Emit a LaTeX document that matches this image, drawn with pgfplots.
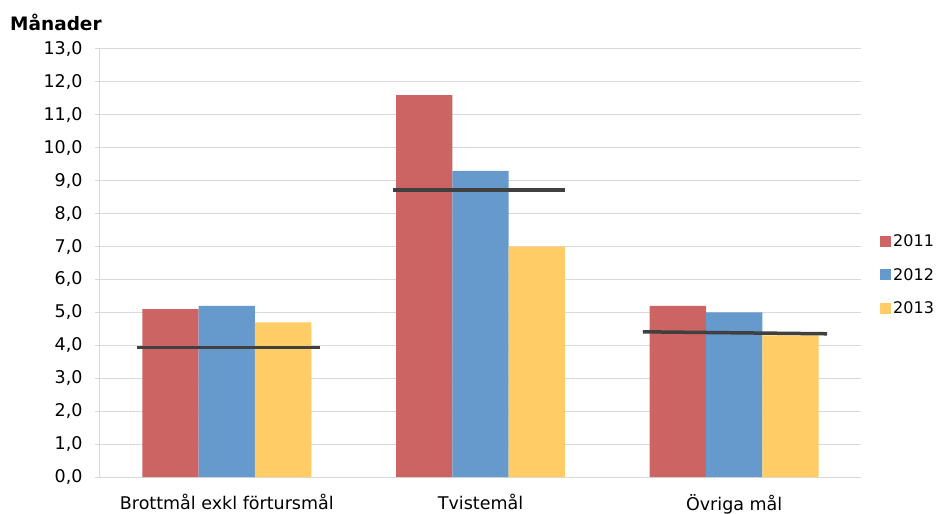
\documentclass[border=0pt]{standalone}
\usepackage{pgfplots}
\pgfplotsset{compat=1.18}
\usepackage{fontspec}
\setmainfont{DejaVu Sans}

\definecolor{c11}{HTML}{CD6464}
\definecolor{c12}{HTML}{6699CC}
\definecolor{c13}{HTML}{FFCC66}
\definecolor{gridc}{HTML}{D9D9D9}
\definecolor{mark}{HTML}{404040}

\begin{document}
\begin{tikzpicture}[x=1pt,y=1pt]
\useasboundingbox (-100,-37) rectangle (837,477);
\begin{axis}[
    at={(0,0)}, anchor=south west,
    scale only axis,
    width=761pt, height=428pt,
    ybar=0pt, bar width=0.222,
    xmin=-0.5, xmax=2.5,
    ymin=0, ymax=13,
    ytick={0,1,...,13},
    xtick={0,1,2},
    xticklabels={Brottmål exkl förtursmål, Tvistemål, Övriga mål},
    x tick label style={font=\fontsize{17.5}{17.5}\selectfont, yshift=-9pt},
    y tick label style={font=\fontsize{17.5}{17.5}\selectfont, xshift=-9pt},
    yticklabel style={/pgf/number format/.cd, fixed, fixed zerofill, precision=1, use comma, assume math mode=true},
    xtick style={draw=none},
    ytick style={gridc, line width=1pt},
    major tick length=5pt, tick align=outside,
    extra x ticks={-0.5,0.5,1.5,2.5},
    extra x tick labels={},
    extra x tick style={tick style={gridc, line width=1pt, draw=gridc}, major tick length=6pt, grid=none},
    ymajorgrids, grid style={gridc, line width=1pt},
    axis x line*=bottom, axis y line*=left,
    axis line style={gridc, line width=1pt, -},
    legend style={at={(1.025,0.472)}, anchor=west, draw=none, fill=none,
        font=\fontsize{16}{16}\selectfont, row sep=16pt, inner sep=0pt,
        nodes={inner xsep=2pt}},
    legend cell align=left,
    legend image code/.code={\fill[#1] (0pt,-5.5pt) rectangle (11pt,5.5pt);},
]
\addplot[fill=c11, draw=none] coordinates {(0,5.1) (1,11.6) (2,5.2)};
\addplot[fill=c12, draw=none] coordinates {(0,5.2) (1,9.3) (2,5.0)};
\addplot[fill=c13, draw=none] coordinates {(0,4.7) (1,7.0) (2,4.3)};
\legend{2011,2012,2013}
\addplot[sharp plot, draw=mark, line width=3.5pt, forget plot, no marks] coordinates {(-0.354,3.93) (0.367,3.93)};
\addplot[sharp plot, draw=mark, line width=3.5pt, forget plot, no marks] coordinates {(0.655,8.72) (1.333,8.72)};
\addplot[sharp plot, draw=mark, line width=3.5pt, forget plot, no marks] coordinates {(1.640,4.41) (2.366,4.35)};
\end{axis}
\node[anchor=north west, font=\bfseries\fontsize{18.5}{18.5}\selectfont, inner sep=0pt] at (-90,463) {Månader};
\end{tikzpicture}
\end{document}
